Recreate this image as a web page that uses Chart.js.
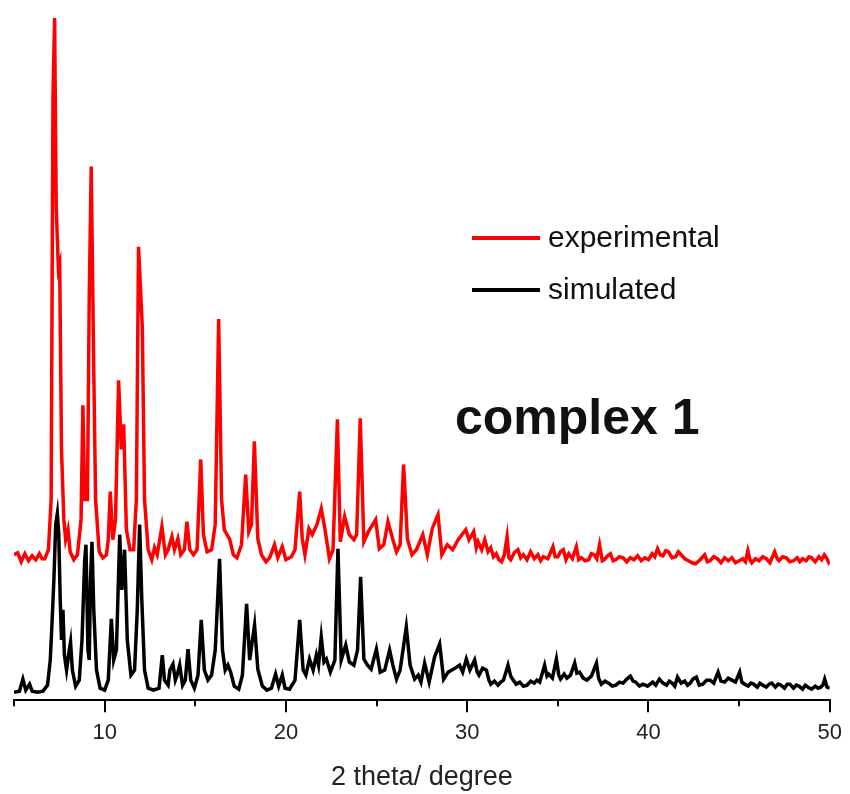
<!DOCTYPE html>
<html>
<head>
<meta charset="utf-8">
<title>complex 1 PXRD</title>
<script src="https://cdn.jsdelivr.net/npm/chart.js@4.4.1/dist/chart.umd.min.js"></script>
<style>
  html, body { margin: 0; padding: 0; background: #fff; }
  #wrap { width: 850px; height: 794px; position: relative; }
</style>
</head>
<body>
<div id="wrap"><canvas id="xrd"></canvas></div>
<script>
// 2 theta (degree) and intensity (a.u.); the experimental curve sits shifted up, as in the figure
// peak region, 5 - 30 degrees
const expHeadX = [5.0, 5.2, 5.4, 5.6, 5.8, 6.0, 6.2, 6.4, 6.55, 6.7, 6.9, 7.05, 7.15, 7.24, 7.33, 7.45, 7.52, 7.62, 7.75, 7.85, 7.98, 8.1, 8.3, 8.5, 8.7, 8.8, 8.9, 9.05, 9.15, 9.26, 9.4, 9.5, 9.7, 9.9, 10.1, 10.2, 10.31, 10.45, 10.6, 10.77, 10.92, 11.05, 11.2, 11.4, 11.6, 11.75, 11.87, 12.08, 12.2, 12.4, 12.6, 12.75, 12.9, 13.16, 13.35, 13.5, 13.71, 13.85, 14.04, 14.2, 14.4, 14.54, 14.7, 14.9, 15.1, 15.3, 15.45, 15.65, 15.9, 16.1, 16.29, 16.45, 16.6, 16.75, 16.89, 17.1, 17.3, 17.55, 17.78, 17.95, 18.1, 18.26, 18.45, 18.65, 18.9, 19.1, 19.37, 19.55, 19.8, 20.0, 20.3, 20.5, 20.76, 20.9, 21.05, 21.27, 21.45, 21.71, 21.95, 22.15, 22.4, 22.6, 22.84, 23.0, 23.24, 23.5, 23.75, 23.9, 24.1, 24.3, 24.55, 24.95, 25.15, 25.4, 25.63, 25.9, 26.1, 26.3, 26.49, 26.7, 26.95, 27.2, 27.55, 27.8, 28.07, 28.39, 28.6, 28.9, 29.2, 29.5, 29.92];
const expHeadY = [145, 147, 138, 146, 139, 144, 140, 146, 141, 141, 150, 200, 600, 680, 490, 430, 435, 250, 180, 160, 170, 148, 140, 145, 180, 294, 200, 200, 400, 532, 330, 200, 148, 142, 145, 160, 208, 160, 180, 319, 250, 275, 170, 150, 150, 200, 452, 371, 200, 150, 140, 152, 145, 173, 145, 150, 163, 150, 161, 145, 150, 178, 150, 145, 150, 240, 165, 148, 150, 175, 380, 200, 170, 165, 161, 145, 142, 155, 225, 168, 175, 258, 161, 145, 138, 142, 155, 142, 153, 140, 143, 150, 208, 161, 145, 171, 165, 175, 191, 171, 141, 150, 280, 158, 183, 165, 160, 165, 281, 158, 168, 180, 151, 155, 178, 160, 148, 155, 235, 161, 145, 150, 165, 145, 171, 185, 145, 155, 150, 160, 170];

// noisy tail, 30 - 50 degrees
const expTailX = [
  30.1, 30.36, 30.5, 30.6, 30.8, 30.97, 31.15, 31.3, 31.45, 31.6,
  31.75, 31.9, 32.05, 32.2, 32.3, 32.4, 32.6, 32.8, 32.95, 33.1,
  33.3, 33.5, 33.7, 33.9, 34.05, 34.2, 34.45, 34.73, 34.85, 35.0,
  35.15, 35.3, 35.45, 35.6, 35.8, 36.02, 36.15, 36.3, 36.5, 36.7,
  36.85, 37.0, 37.15, 37.3, 37.45, 37.55, 37.75, 37.9, 38.05, 38.2,
  38.4, 38.6, 38.8, 39.0, 39.2, 39.4, 39.6, 39.8, 40.0, 40.2,
  40.35, 40.5, 40.65, 40.8, 40.95, 41.1, 41.3, 41.5, 41.65, 41.8,
  42.0, 42.2, 42.4, 42.6, 42.85, 43.1, 43.25, 43.4, 43.6, 43.8,
  44.0, 44.2, 44.4, 44.6, 44.8, 45.0, 45.2, 45.35, 45.48, 45.6,
  45.7, 45.9, 46.1, 46.3, 46.5, 46.7, 46.96, 47.1, 47.2, 47.4,
  47.6, 47.8, 48.0, 48.2, 48.35, 48.5, 48.7, 48.85, 49.0, 49.2,
  49.4, 49.55, 49.7, 49.85, 49.95, 50.0];
const expTailY = [
  160, 168, 152, 158, 150, 160, 148, 152, 143, 146,
  140, 138, 145, 163, 142, 140, 147, 150, 142, 145,
  140, 148, 141, 145, 139, 143, 141, 153, 143, 143,
  148, 150, 140, 146, 141, 153, 140, 142, 139, 140,
  146, 145, 141, 155, 139, 140, 144, 146, 139, 140,
  143, 142, 138, 142, 140, 144, 139, 142, 140, 146,
  143, 151, 145, 144, 149, 148, 142, 143, 148, 145,
  141, 139, 137, 136, 140, 145, 138, 139, 143, 141,
  137, 142, 139, 142, 137, 139, 141, 138, 149, 140,
  137, 141, 139, 143, 141, 137, 148, 141, 139, 143,
  142, 138, 139, 142, 138, 141, 139, 143, 142, 138,
  143, 140, 145, 141, 137, 138];

const simHeadX = [5.0, 5.3, 5.49, 5.65, 5.86, 6.0, 6.3, 6.6, 6.85, 7.0, 7.1, 7.2, 7.3, 7.39, 7.47, 7.55, 7.62, 7.7, 7.78, 7.9, 8.05, 8.12, 8.22, 8.4, 8.6, 8.75, 8.9, 8.97, 9.08, 9.15, 9.22, 9.3, 9.4, 9.55, 9.75, 10.0, 10.2, 10.37, 10.5, 10.65, 10.83, 10.95, 11.1, 11.25, 11.45, 11.65, 11.8, 11.93, 12.05, 12.2, 12.4, 12.7, 13.0, 13.18, 13.3, 13.5, 13.6, 13.77, 13.9, 14.0, 14.14, 14.3, 14.45, 14.6, 14.75, 14.95, 15.15, 15.33, 15.5, 15.7, 15.9, 16.1, 16.34, 16.5, 16.65, 16.8, 16.95, 17.15, 17.4, 17.6, 17.83, 18.0, 18.27, 18.45, 18.7, 18.95, 19.2, 19.43, 19.6, 19.8, 19.95, 20.2, 20.5, 20.76, 20.95, 21.1, 21.3, 21.5, 21.68, 21.8, 21.95, 22.1, 22.23, 22.45, 22.7, 22.87, 23.05, 23.3, 23.5, 23.75, 23.95, 24.12, 24.3, 24.5, 24.7, 24.99, 25.2, 25.45, 25.72, 25.9, 26.1, 26.3, 26.64, 26.85, 27.1, 27.3, 27.45, 27.65, 27.9, 28.2, 28.48, 28.7, 28.95, 29.25, 29.58, 29.75, 29.95];
const simHeadY = [8, 9, 21, 10, 16, 9, 8, 9, 15, 40, 78, 120, 175, 186, 165, 100, 60, 90, 45, 30, 50, 58, 30, 14, 20, 60, 140, 155, 50, 40, 120, 158, 90, 30, 12, 10, 20, 81, 40, 50, 165, 110, 150, 60, 25, 30, 90, 175, 100, 30, 12, 10, 12, 45, 20, 15, 30, 36, 20, 25, 35, 15, 20, 51, 20, 12, 25, 80, 30, 20, 25, 50, 141, 50, 30, 35, 28, 14, 11, 25, 96, 40, 75, 31, 14, 10, 12, 26, 14, 25, 12, 11, 20, 80, 30, 25, 41, 30, 45, 35, 63, 38, 41, 28, 40, 151, 40, 55, 38, 35, 50, 123, 41, 35, 31, 51, 28, 30, 50, 35, 21, 30, 73, 35, 21, 25, 18, 37, 18, 43, 56, 21, 28, 31, 35, 28, 41];

const simTailX = [
  30.15, 30.41, 30.55, 30.65, 30.85, 31.06, 31.2, 31.3, 31.5, 31.7,
  31.85, 32.0, 32.25, 32.4, 32.5, 32.7, 32.9, 33.1, 33.3, 33.5,
  33.7, 33.85, 34.0, 34.27, 34.4, 34.5, 34.7, 34.92, 35.05, 35.15,
  35.35, 35.5, 35.7, 35.93, 36.05, 36.2, 36.4, 36.6, 36.85, 37.13,
  37.25, 37.4, 37.6, 37.8, 38.0, 38.2, 38.4, 38.6, 38.8, 39.0,
  39.15, 39.3, 39.5, 39.7, 39.95, 40.23, 40.4, 40.6, 40.8, 41.0,
  41.15, 41.3, 41.45, 41.6, 41.8, 42.0, 42.15, 42.3, 42.45, 42.64,
  42.8, 43.0, 43.2, 43.4, 43.6, 43.84, 44.0, 44.2, 44.4, 44.6,
  44.8, 45.03, 45.15, 45.3, 45.5, 45.65, 45.8, 46.0, 46.15, 46.3,
  46.5, 46.65, 46.8, 47.0, 47.15, 47.3, 47.5, 47.65, 47.8, 48.0,
  48.15, 48.3, 48.5, 48.65, 48.8, 49.0, 49.2, 49.35, 49.5, 49.62,
  49.72, 49.85, 50.0];
const simTailY = [
  30, 40, 28, 25, 32, 30, 20, 16, 19, 15,
  18, 20, 35, 24, 21, 16, 18, 14, 15, 19,
  17, 20, 18, 35, 24, 26, 22, 41, 25, 21,
  26, 22, 25, 37, 27, 28, 22, 20, 24, 37,
  22, 16, 19, 17, 14, 15, 18, 17, 21, 24,
  19, 18, 14, 16, 14, 18, 15, 21, 17, 15,
  19, 17, 14, 23, 17, 19, 15, 17, 21, 23,
  15, 16, 20, 20, 17, 28, 19, 18, 22, 20,
  18, 28, 18, 16, 14, 17, 16, 13, 17, 15,
  13, 16, 17, 13, 16, 15, 12, 16, 16, 12,
  15, 14, 11, 15, 13, 11, 14, 12, 13, 15,
  21, 13, 12];

const xTicks = [10, 20, 30, 40, 50];
const legendItems = ["experimental", "simulated"];
const legendColors = ["#ff0000", "#000000"];
const sampleLabel = "complex 1";

const toPoints = (xs, ys) => xs.map((x, i) => ({ x: x, y: ys[i] }));

// short ticks at the 5-degree marks, labels only at the 10s
const minorTicks = {
  id: "minorTicks",
  afterDraw(chart) {
    const sx = chart.scales.x;
    const ctx = chart.ctx;
    const y0 = chart.chartArea.bottom;
    ctx.save();
    ctx.strokeStyle = "#000";
    ctx.lineWidth = 2;
    sx.ticks.forEach(t => {
      if (xTicks.includes(t.value)) return;
      const px = Math.round(sx.getPixelForValue(t.value));
      ctx.beginPath();
      ctx.moveTo(px, y0);
      ctx.lineTo(px, y0 + 6);
      ctx.stroke();
    });
    ctx.restore();
  }
};

// legend + sample name inside the plot, like the figure
const insideText = {
  id: "insideText",
  afterDraw(chart) {
    const ctx = chart.ctx;
    const a = chart.chartArea;
    const lx = a.left + 458;
    ctx.save();
    legendItems.forEach((name, i) => {
      const y = 238 + i * 52;
      ctx.strokeStyle = legendColors[i];
      ctx.lineWidth = 4;
      ctx.beginPath();
      ctx.moveTo(lx, y);
      ctx.lineTo(lx + 68, y);
      ctx.stroke();
      ctx.fillStyle = "#111";
      ctx.font = "30px 'Liberation Sans', Arial, sans-serif";
      ctx.textBaseline = "middle";
      ctx.fillText(name, lx + 76, y + 1);
    });
    ctx.font = "bold 50px 'Liberation Sans', Arial, sans-serif";
    ctx.textBaseline = "alphabetic";
    ctx.fillStyle = "#111";
    ctx.fillText(sampleLabel, a.left + 441, 434);
    ctx.restore();
  }
};

new Chart(document.getElementById("xrd"), {
  type: "line",
  data: {
    datasets: [
      {
        label: legendItems[0],
        data: toPoints(expHeadX.concat(expTailX), expHeadY.concat(expTailY)),
        borderColor: legendColors[0],
        borderWidth: 3.5,
        pointRadius: 0,
        tension: 0,
        order: 1
      },
      {
        label: legendItems[1],
        data: toPoints(simHeadX.concat(simTailX), simHeadY.concat(simTailY)),
        borderColor: legendColors[1],
        borderWidth: 3.5,
        pointRadius: 0,
        tension: 0,
        order: 0
      }
    ]
  },
  options: {
    responsive: true,
    maintainAspectRatio: false,
    animation: false,
    layout: { padding: { left: 14, right: 20, top: 0, bottom: 0 } },
    plugins: {
      legend: { display: false },
      tooltip: { enabled: false }
    },
    scales: {
      x: {
        type: "linear",
        min: 5,
        max: 50,
        border: { display: true, color: "#000", width: 2 },
        grid: {
          drawOnChartArea: false,
          drawTicks: true,
          tickLength: 12,
          lineWidth: 2,
          color: c => (c.tick && xTicks.includes(c.tick.value)) ? "#000" : "rgba(0,0,0,0)"
        },
        ticks: {
          stepSize: 5,
          autoSkip: false,
          maxRotation: 0,
          padding: 8,
          color: "#222",
          font: { family: "'Liberation Sans', Arial, sans-serif", size: 22 },
          callback: v => xTicks.includes(v) ? String(v) : ""
        },
        title: {
          display: true,
          text: "2 theta/ degree",
          color: "#222",
          font: { family: "'Liberation Sans', Arial, sans-serif", size: 27 },
          padding: { top: 7, bottom: 0 }
        }
      },
      y: {
        display: false,
        min: 0,
        max: 698
      }
    }
  },
  plugins: [minorTicks, insideText]
});
</script>
</body>
</html>
